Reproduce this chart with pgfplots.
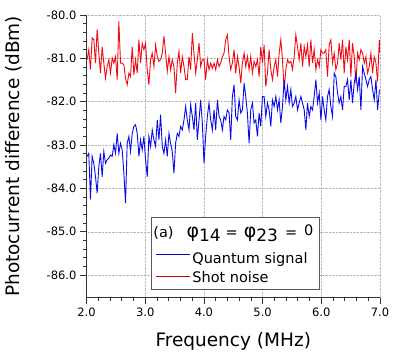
\documentclass[border=0pt]{standalone}
\usepackage{pgfplots}
\pgfplotsset{compat=1.18}
\usepackage{fontspec}
\setmainfont{DejaVu Sans}

\definecolor{qsig}{RGB}{10,10,235}
\definecolor{shot}{RGB}{240,10,20}
\definecolor{qleg}{RGB}{0,0,205}
\definecolor{sleg}{RGB}{205,0,0}

\newcommand{\legphi}{{\fontsize{19}{19}\selectfont φ}}
\newcommand{\legsub}[1]{\raisebox{-4pt}{\fontsize{17}{17}\selectfont #1}}
\newcommand{\legtitle}{\hspace*{-39pt}\rule{0pt}{15pt}(a)\hspace{13pt}\legphi\legsub{14}\hspace{5pt}=\hspace{6pt}\legphi\legsub{23}\hspace{7pt}=\hspace{7pt}\raisebox{1.5pt}{0}\hspace{7pt}}

\begin{document}
\begin{tikzpicture}
\begin{axis}[
  at={(0pt,0pt)}, anchor=south west,
  scale only axis, width=293.5pt, height=282.7pt,
  xmin=2, xmax=7, ymin=-86.52, ymax=-80,
  axis lines*=left, axis line style={black!80, line width=0.8pt},
  xtick={2,3,...,7}, xticklabels={2.0,3.0,4.0,5.0,6.0,7.0},
  ytick={-86,-85,...,-80}, yticklabels={-86.0,-85.0,-84.0,-83.0,-82.0,-81.0,-80.0},
  minor tick num=4,
  tick align=outside, major tick length=6.5pt, minor tick length=3.3pt,
  tick style={black!80, line width=0.7pt},
  grid=major, major grid style={densely dotted, gray!55, line width=0.5pt},
  tick label style={font=\fontsize{11.5}{12}\selectfont},
  every axis y label/.style={at={(axis description cs:0,0.5)}, xshift=-73pt, rotate=90, anchor=center},
  every axis x label/.style={at={(axis description cs:0.5,0)}, yshift=-48.3pt, anchor=base},
  label style={font=\fontsize{18.5}{20}\selectfont},
  xlabel={Frequency (MHz)},
  ylabel={Photocurrent difference (dBm)},
  legend style={at={(axis description cs:0.22,0.027)}, anchor=south west,
    draw=black!65, line width=1.2pt, fill=white,
    font=\fontsize{14.5}{16}\selectfont, inner xsep=4pt, inner ysep=3pt, row sep=0pt},
  legend cell align=left,
  legend image code/.code={\draw[#1, line width=0.7pt] (0pt,0pt) -- (34pt,0pt);},
]
% shot noise (red)
\addplot[shot, line width=0.9pt, forget plot] coordinates {
(2.011,-81.03)(2.039,-80.80)(2.068,-81.26)(2.096,-80.53)(2.125,-80.57)(2.153,-81.11)(2.182,-80.33)(2.210,-80.88)(2.238,-81.34)(2.267,-80.73)(2.295,-81.11)(2.324,-81.46)(2.352,-81.19)(2.381,-81.03)(2.409,-81.34)(2.438,-80.99)(2.466,-81.11)(2.494,-80.96)(2.523,-81.49)(2.551,-80.15)(2.580,-81.11)(2.608,-81.11)(2.637,-81.15)(2.665,-81.46)(2.693,-81.61)(2.722,-81.34)(2.750,-81.42)(2.779,-80.73)(2.807,-81.38)(2.836,-81.03)(2.864,-81.34)(2.893,-80.57)(2.921,-81.11)(2.949,-80.65)
(2.978,-80.80)(3.006,-80.65)(3.035,-81.26)(3.063,-81.61)(3.092,-81.03)(3.120,-80.88)(3.149,-81.19)(3.177,-80.69)(3.206,-80.96)(3.234,-81.07)(3.262,-81.03)(3.291,-80.88)(3.319,-80.49)(3.348,-80.88)(3.376,-81.30)(3.405,-80.96)(3.433,-81.26)(3.461,-81.03)(3.490,-81.19)(3.518,-81.80)(3.547,-81.11)(3.575,-80.84)(3.604,-81.34)(3.632,-80.96)(3.661,-81.19)(3.689,-81.49)(3.717,-81.49)(3.746,-80.96)(3.774,-81.26)(3.803,-80.42)(3.831,-80.88)(3.860,-81.34)(3.888,-81.03)(3.917,-80.65)(3.945,-81.19)(3.973,-81.03)
(4.002,-81.03)(4.030,-81.49)(4.059,-81.03)(4.087,-81.26)(4.116,-81.11)(4.144,-81.23)(4.173,-81.11)(4.201,-81.26)(4.230,-81.03)(4.258,-81.19)(4.286,-81.11)(4.315,-80.96)(4.343,-80.88)(4.372,-80.57)(4.400,-80.46)(4.429,-80.96)(4.457,-81.26)(4.485,-81.11)(4.514,-80.80)(4.542,-81.34)(4.571,-80.96)(4.599,-81.19)(4.628,-81.57)(4.656,-81.11)(4.685,-80.88)(4.713,-81.19)(4.741,-80.96)(4.770,-81.26)(4.798,-80.96)(4.827,-81.34)(4.855,-81.07)(4.884,-81.19)(4.912,-81.03)(4.941,-81.42)(4.969,-80.73)(4.997,-81.11)
(5.026,-80.69)(5.054,-81.65)(5.083,-81.34)(5.111,-80.80)(5.140,-81.26)(5.168,-81.49)(5.197,-81.19)(5.225,-81.03)(5.254,-81.42)(5.282,-80.88)(5.310,-80.57)(5.339,-81.03)(5.367,-81.72)(5.396,-81.26)(5.424,-81.03)(5.453,-81.11)(5.481,-81.07)(5.509,-81.26)(5.538,-80.96)(5.566,-80.46)(5.595,-80.73)(5.623,-81.03)(5.652,-80.65)(5.680,-81.19)(5.709,-80.73)(5.737,-80.96)(5.765,-80.69)(5.794,-81.19)(5.822,-80.57)(5.851,-81.11)(5.879,-80.80)(5.908,-81.26)(5.936,-81.03)(5.965,-81.19)(5.993,-80.80)(6.021,-80.88)
(6.049,-80.88)(6.077,-80.80)(6.106,-81.42)(6.134,-80.69)(6.163,-80.57)(6.191,-81.11)(6.220,-80.88)(6.248,-81.26)(6.277,-81.11)(6.305,-80.65)(6.333,-81.03)(6.362,-80.57)(6.390,-81.34)(6.419,-80.73)(6.447,-81.03)(6.476,-80.57)(6.504,-81.42)(6.532,-80.65)(6.561,-80.96)(6.589,-81.57)(6.618,-80.88)(6.646,-81.03)(6.675,-80.80)(6.703,-80.88)(6.732,-81.11)(6.760,-80.96)(6.788,-81.34)(6.817,-81.19)(6.845,-80.88)(6.874,-81.34)(6.902,-80.96)(6.931,-81.11)(6.959,-81.53)(6.988,-80.57)(7.000,-80.88)
};
% quantum signal (blue)
\addplot[qsig, line width=0.9pt, forget plot] coordinates {
(2.011,-83.26)(2.039,-83.19)(2.068,-84.25)(2.096,-83.26)(2.125,-83.42)(2.153,-83.73)(2.182,-84.11)(2.210,-83.49)(2.238,-83.19)(2.267,-83.73)(2.295,-83.15)(2.324,-83.42)(2.352,-83.34)(2.381,-83.30)(2.409,-83.23)(2.438,-83.26)(2.466,-82.99)(2.494,-83.19)(2.523,-82.73)(2.551,-83.19)(2.580,-82.96)(2.608,-83.11)(2.637,-83.65)(2.665,-84.34)(2.693,-82.96)(2.722,-82.80)(2.750,-83.15)(2.779,-82.73)(2.807,-82.57)(2.836,-82.53)(2.864,-82.73)(2.893,-83.26)(2.921,-82.88)(2.949,-83.11)
(2.978,-82.80)(3.006,-83.34)(3.035,-83.73)(3.063,-82.80)(3.092,-83.03)(3.120,-82.65)(3.149,-82.88)(3.177,-83.03)(3.206,-82.42)(3.234,-82.88)(3.262,-82.30)(3.291,-83.03)(3.319,-83.19)(3.348,-82.88)(3.376,-83.26)(3.405,-82.73)(3.433,-82.96)(3.461,-83.15)(3.490,-83.65)(3.518,-82.96)(3.547,-82.73)(3.575,-82.80)(3.604,-82.57)(3.632,-82.65)(3.661,-82.42)(3.689,-82.11)(3.717,-82.42)(3.746,-82.65)(3.774,-82.07)(3.803,-82.34)(3.831,-82.65)(3.860,-82.03)(3.888,-82.88)(3.917,-82.42)(3.945,-81.96)(3.973,-82.49)
(4.002,-83.42)(4.030,-82.80)(4.059,-82.34)(4.087,-82.03)(4.116,-82.42)(4.144,-82.65)(4.173,-82.19)(4.201,-82.65)(4.230,-81.96)(4.258,-82.34)(4.286,-82.42)(4.315,-82.65)(4.343,-82.34)(4.372,-82.42)(4.400,-82.19)(4.429,-82.26)(4.457,-82.88)(4.485,-81.88)(4.514,-81.61)(4.542,-82.34)(4.571,-82.42)(4.599,-81.96)(4.628,-82.26)(4.656,-82.19)(4.685,-81.57)(4.713,-81.88)(4.741,-82.26)(4.770,-82.96)(4.798,-82.19)(4.827,-82.03)(4.855,-82.49)(4.884,-82.42)(4.912,-82.80)(4.941,-82.26)(4.969,-82.57)(4.997,-81.88)
(5.026,-81.88)(5.054,-82.34)(5.083,-82.03)(5.111,-82.19)(5.140,-82.57)(5.168,-81.96)(5.197,-82.11)(5.225,-81.88)(5.254,-82.19)(5.282,-81.96)(5.310,-82.49)(5.339,-82.11)(5.367,-81.49)(5.396,-81.96)(5.424,-81.65)(5.453,-82.03)(5.481,-81.72)(5.509,-82.11)(5.538,-82.03)(5.566,-81.88)(5.595,-82.19)(5.623,-82.03)(5.652,-81.88)(5.680,-82.03)(5.709,-82.19)(5.737,-82.65)(5.765,-82.03)(5.794,-82.34)(5.822,-82.11)(5.851,-82.19)(5.879,-81.88)(5.908,-81.49)(5.936,-82.03)(5.965,-81.80)(5.993,-82.42)(6.021,-81.88)
(6.049,-82.19)(6.077,-82.42)(6.106,-81.88)(6.134,-81.72)(6.163,-82.11)(6.191,-82.34)(6.220,-81.34)(6.248,-81.42)(6.277,-81.80)(6.305,-82.03)(6.333,-81.88)(6.362,-82.19)(6.390,-81.65)(6.419,-81.65)(6.447,-81.49)(6.476,-81.96)(6.504,-81.49)(6.532,-82.03)(6.561,-81.57)(6.589,-81.34)(6.618,-81.72)(6.646,-81.42)(6.675,-82.19)(6.703,-81.19)(6.732,-81.34)(6.760,-81.49)(6.788,-81.65)(6.817,-81.49)(6.845,-81.42)(6.874,-81.72)(6.902,-81.96)(6.931,-81.49)(6.959,-82.19)(6.988,-81.76)(7.000,-81.72)
};
\addlegendimage{empty legend}
\addlegendentry{\legtitle}
\addlegendimage{qleg}
\addlegendentry{\rule{0pt}{20.5pt}Quantum signal}
\addlegendimage{sleg}
\addlegendentry{\rule{0pt}{14pt}Shot noise}
\end{axis}
\pgfresetboundingbox
\path (-86.5pt,-53.3pt) rectangle (328.5pt,297.7pt);
\end{tikzpicture}
\end{document}
